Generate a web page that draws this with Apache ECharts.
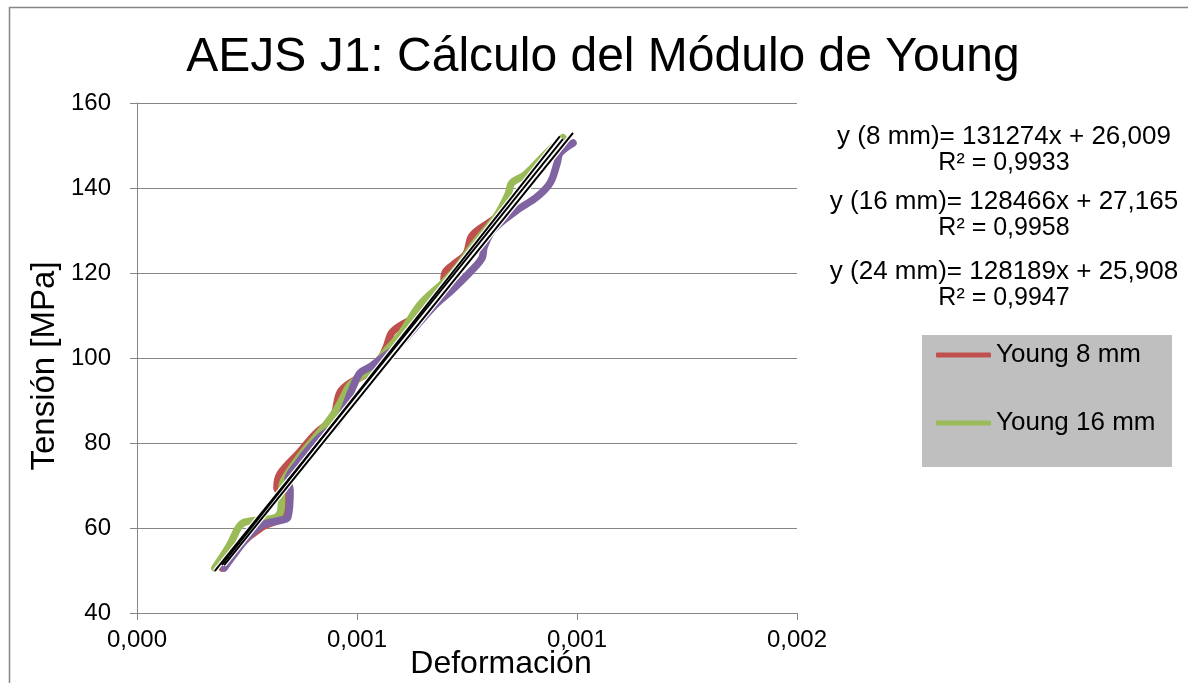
<!DOCTYPE html>
<html>
<head>
<meta charset="utf-8">
<script src="https://cdn.jsdelivr.net/npm/echarts@6/dist/echarts.min.js"></script>
<style>
  html, body { margin: 0; padding: 0; background: #ffffff; overflow: hidden; }
  #chart { width: 1188px; height: 683px; }
</style>
</head>
<body>
<div id="chart"></div>
<script>
// Strain (Deformación) / stress (Tensión, MPa) readings for each specimen length
const strain8  = [0.000193, 0.000234, 0.000284, 0.000339, 0.000343, 0.000318, 0.000325, 0.000370, 0.000405, 0.000445, 0.000461, 0.000484, 0.000541, 0.000566, 0.000580, 0.000620, 0.000666, 0.000695, 0.000700, 0.000718, 0.000748, 0.000761, 0.000802, 0.000848, 0.000886, 0.000923, 0.000961];
const stress8  = [50.6, 56.0, 60.2, 63.1, 66.6, 69.4, 72.7, 77.9, 82.1, 85.9, 91.8, 94.1, 97.6, 102.4, 106.1, 108.9, 111.8, 115.6, 120.0, 121.9, 124.5, 128.7, 132.0, 135.5, 140.9, 145.9, 151.3];

const strain16 = [0.000177, 0.000211, 0.000230, 0.000245, 0.000314, 0.000327, 0.000330, 0.000348, 0.000382, 0.000416, 0.000450, 0.000468, 0.000484, 0.000530, 0.000568, 0.000598, 0.000643, 0.000700, 0.000730, 0.000768, 0.000814, 0.000843, 0.000852, 0.000882, 0.000927, 0.000968];
const stress16 = [50.6, 56.0, 60.0, 61.4, 62.4, 64.2, 70.1, 73.6, 78.4, 82.6, 87.3, 90.6, 93.6, 97.2, 101.9, 105.4, 112.5, 118.1, 121.6, 127.1, 132.9, 138.4, 141.2, 143.1, 147.8, 151.8];

const strain24 = [0.000198, 0.000223, 0.000252, 0.000284, 0.000330, 0.000343, 0.000348, 0.000343, 0.000366, 0.000389, 0.000416, 0.000455, 0.000491, 0.000507, 0.000530, 0.000559, 0.000591, 0.000627, 0.000673, 0.000716, 0.000757, 0.000784, 0.000789, 0.000809, 0.000864, 0.000909, 0.000939, 0.000955, 0.000961, 0.000991];
const stress24 = [50.6, 54.1, 57.9, 60.7, 61.9, 62.6, 68.9, 71.3, 75.3, 78.4, 81.4, 84.7, 93.2, 96.5, 97.9, 100.2, 102.6, 106.6, 112.0, 116.0, 120.2, 123.5, 126.1, 130.1, 134.8, 137.9, 141.2, 145.9, 148.2, 150.6];

// Linear trendline coefficients and fit quality
const seriesNames = ['Young 8 mm', 'Young 16 mm', 'Young 24 mm'];
const specimenLabels = ['8 mm', '16 mm', '24 mm'];
const slopes     = [131274, 128466, 128189];
const intercepts = [26.009, 27.165, 25.908];
const r2Values   = [0.9933, 0.9958, 0.9947];

// Axis tick labels
const xTickLabels = ['0,000', '0,001', '0,001', '0,002'];
const yTickLabels = ['40', '60', '80', '100', '120', '140', '160'];

const colors = ['#C0504D', '#9BBB59', '#8064A2'];
const FONT = '"Liberation Sans", Arial, sans-serif';

const strains = [strain8, strain16, strain24];
const stresses = [stress8, stress16, stress24];

const pairs = (xs, ys) => xs.map((x, i) => [x, ys[i]]);
const comma = (v, d) => v.toFixed(d).replace('.', ',');

const dataSeries = strains.map((xs, k) => ({
  name: seriesNames[k],
  type: 'line',
  data: pairs(xs, stresses[k]),
  smooth: 0.35,
  showSymbol: false,
  symbol: 'none',
  color: colors[k],
  lineStyle: { width: 7.5, color: colors[k], cap: 'round', join: 'round' },
  z: 2 + k
}));

// Trendline endpoints span each series' strain range
const trendData = strains.map((xs, k) => {
  const lo = Math.min(...xs), hi = Math.max(...xs);
  return [[lo, slopes[k] * lo + intercepts[k]], [hi, slopes[k] * hi + intercepts[k]]];
});

const trendHalo = trendData.map((d, k) => ({
  name: 'halo' + k, type: 'line', data: d, showSymbol: false, symbol: 'none',
  lineStyle: { width: 4.5, color: '#ffffff' }, z: 6, silent: true
}));
const trendLines = trendData.map((d, k) => ({
  name: 'trend' + k, type: 'line', data: d, showSymbol: false, symbol: 'none',
  lineStyle: { width: 2, color: '#000000' }, z: 7, silent: true
}));

// Equation labels beside the plot
const eqY = [137, 202, 272];
const eqX = 1004;
const eqElements = [];
specimenLabels.forEach((lab, k) => {
  eqElements.push({
    type: 'text', x: eqX, y: eqY[k],
    style: { text: 'y (' + lab + ')= ' + slopes[k] + 'x + ' + comma(intercepts[k], 3),
      font: '26px ' + FONT, fill: '#000', align: 'center', verticalAlign: 'middle' }
  });
  eqElements.push({
    type: 'text', x: eqX, y: eqY[k] + 26,
    style: { text: 'R² = ' + comma(r2Values[k], 4),
      font: '25px ' + FONT, fill: '#000', align: 'center', verticalAlign: 'middle' }
  });
});

const chart = echarts.init(document.getElementById('chart'), null, { width: 1188, height: 683 });
chart.setOption({
  animation: false,
  backgroundColor: '#ffffff',
  grid: { left: 137, top: 103, width: 660, height: 510, containLabel: false },
  xAxis: {
    type: 'value', min: 0, max: 0.0015, interval: 0.0005,
    axisLine: { show: true, lineStyle: { color: '#868686', width: 1 } },
    axisTick: { show: true, length: 7, lineStyle: { color: '#868686' } },
    splitLine: { show: false },
    axisLabel: {
      fontFamily: FONT, fontSize: 24, color: '#000', margin: 15,
      formatter: v => xTickLabels[Math.round(v / 0.0005)]
    }
  },
  yAxis: {
    type: 'value', min: 40, max: 160, interval: 20,
    axisLine: { show: true, lineStyle: { color: '#868686', width: 1 } },
    axisTick: { show: true, length: 7, lineStyle: { color: '#868686' } },
    splitLine: { show: true, lineStyle: { color: '#868686', width: 1 } },
    axisLabel: {
      fontFamily: FONT, fontSize: 24, color: '#000', margin: 26,
      formatter: v => yTickLabels[Math.round((v - 40) / 20)]
    }
  },
  legend: {
    data: [seriesNames[0], seriesNames[1]],
    orient: 'vertical', left: 936, top: 340, padding: 0,
    itemWidth: 55, itemHeight: 5, itemGap: 38, icon: 'roundRect',
    textStyle: { fontFamily: FONT, fontSize: 26, color: '#000', lineHeight: 30 },
    z: 10
  },
  graphic: [
    { type: 'rect', left: 7, top: 5, z: -10, silent: true,
      shape: { width: 1200, height: 700 },
      style: { fill: 'none', stroke: '#868686', lineWidth: 1.5 } },
    { type: 'rect', left: 922, top: 335, z: 1, silent: true,
      shape: { width: 250, height: 132 },
      style: { fill: '#BFBFBF' } },
    { type: 'text', x: 603, y: 58, z: 5,
      style: { text: 'AEJS J1: Cálculo del Módulo de Young', font: '48px ' + FONT,
        fill: '#000', align: 'center', verticalAlign: 'middle' } },
    { type: 'text', x: 501, y: 664, z: 5,
      style: { text: 'Deformación', font: '32px ' + FONT,
        fill: '#000', align: 'center', verticalAlign: 'middle' } },
    { type: 'text', x: 45, y: 366, z: 5, rotation: Math.PI / 2,
      style: { text: 'Tensión [MPa]', font: '33px ' + FONT,
        fill: '#000', align: 'center', verticalAlign: 'middle' } },
    ...eqElements
  ],
  series: [...dataSeries, ...trendHalo, ...trendLines]
});
</script>
</body>
</html>
